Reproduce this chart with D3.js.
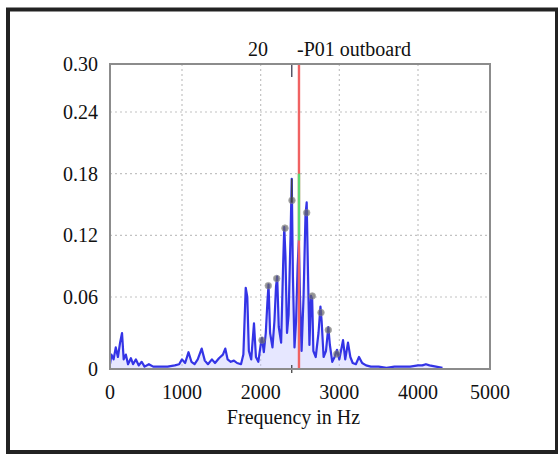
<!DOCTYPE html>
<html><head><meta charset="utf-8">
<script src="https://cdn.jsdelivr.net/npm/d3@7"></script>
<style>body{margin:0;background:#fff}svg{display:block}</style>
</head><body>
<svg id="c" width="558" height="454"></svg>
<script>
// ---- data ----
const freqs = [0,20,50,80,110,140,167,190,220,250,290,320,360,400,440,480,540,600,700,800,900,960,1000,1040,1083,1120,1160,1200,1250,1290,1330,1380,1420,1470,1520,1550,1580,1620,1660,1700,1750,1780,1810,1830,1850,1880,1915,1940,1970,2000,2017,2040,2065,2085,2100,2120,2150,2175,2195,2210,2230,2260,2285,2300,2315,2335,2355,2380,2395,2410,2430,2450,2470,2485,2500,2520,2545,2570,2585,2600,2620,2640,2655,2670,2700,2735,2760,2775,2800,2830,2860,2880,2910,2940,2970,3000,3047,3075,3110,3140,3170,3210,3250,3290,3340,3400,3500,3600,3700,3800,3900,4000,4060,4110,4160,4250,4340];
const amps  = [0.004,0.012,0.008,0.018,0.010,0.022,0.030,0.008,0.012,0.004,0.009,0.004,0.008,0.003,0.006,0.002,0.004,0.002,0.002,0.002,0.003,0.004,0.008,0.005,0.014,0.006,0.004,0.008,0.017,0.007,0.004,0.008,0.005,0.009,0.012,0.017,0.008,0.006,0.007,0.005,0.004,0.012,0.069,0.060,0.015,0.008,0.038,0.010,0.006,0.020,0.026,0.014,0.030,0.055,0.072,0.030,0.018,0.040,0.070,0.080,0.035,0.022,0.090,0.128,0.100,0.030,0.045,0.120,0.175,0.080,0.018,0.040,0.090,0.115,0.060,0.015,0.060,0.140,0.152,0.090,0.020,0.061,0.058,0.015,0.010,0.030,0.052,0.040,0.010,0.015,0.035,0.020,0.006,0.010,0.016,0.008,0.024,0.008,0.022,0.010,0.005,0.004,0.010,0.005,0.003,0.002,0.002,0.001,0.002,0.002,0.002,0.003,0.003,0.004,0.003,0.002,0.001];
const markerFreqs = [2017,2097,2204,2309,2398,2585,2656,2767,2860,2967];
const markerAmps  = [0.024,0.071,0.078,0.127,0.154,0.142,0.061,0.047,0.0325,0.0125];
const xTicks = [0,1000,2000,3000,4000,5000];
const yTicks = [0,0.06,0.12,0.18,0.24,0.30];
const yTickLabels = ["0","0.06","0.12","0.18","0.24","0.30"];
const cursorFreq = 2487;      // red cursor
const greenSpan = [0.115,0.18];
const peakFreq = 2395;        // dark marker line
const peakSpan = [0.152,0.175];
const titleLeft = "20";
const titleRight = "-P01 outboard";
const xTitle = "Frequency in Hz";

// ---- scales ----
const x = d3.scaleLinear().domain([0,1000,4000,5000]).range([110,182,418,490]);
const y = d3.scaleLinear().domain([0,0.06,0.24,0.30]).range([369,297,112,64]);

const svg = d3.select("#c");
const font = "'Liberation Serif','Times New Roman',serif";

// outer frame
svg.append("rect").attr("x",8).attr("y",9.5).attr("width",549).attr("height",442.5)
  .attr("fill","none").attr("stroke","#222").attr("stroke-width",4);

// grid
const g = svg.append("g");
g.selectAll("line.vx").data(xTicks.slice(1,-1)).join("line")
  .attr("x1",d=>x(d)).attr("x2",d=>x(d)).attr("y1",y(0.30)).attr("y2",y(0))
  .attr("stroke","#c2c2c2").attr("stroke-width",1.2).attr("stroke-dasharray","2,3");
g.selectAll("line.hy").data(yTicks.slice(1,-1)).join("line")
  .attr("y1",d=>y(d)).attr("y2",d=>y(d)).attr("x1",x(0)).attr("x2",x(5000))
  .attr("stroke","#c2c2c2").attr("stroke-width",1.2).attr("stroke-dasharray","2,3");

// spectrum
const pts = freqs.map((f,i)=>[f,amps[i]]);
svg.append("path").datum(pts)
  .attr("d",d3.area().x(d=>x(d[0])).y0(y(0)).y1(d=>y(d[1])))
  .attr("fill","#c8caff").attr("opacity",0.45);
svg.append("path").datum(pts)
  .attr("d",d3.line().x(d=>x(d[0])).y(d=>y(d[1])))
  .attr("fill","none").attr("stroke","#3434e6").attr("stroke-width",2.2)
  .attr("stroke-linejoin","round");

// markers
svg.selectAll("circle.m").data(markerFreqs.map((f,i)=>[f,markerAmps[i]])).join("circle")
  .attr("cx",d=>x(d[0])).attr("cy",d=>y(d[1])).attr("r",3.3)
  .attr("fill","#666").attr("stroke","#888").attr("stroke-width",0.8).attr("opacity",0.7);

// red cursor, green segment
svg.append("line").attr("x1",x(cursorFreq)).attr("x2",x(cursorFreq))
  .attr("y1",y(0.30)).attr("y2",y(0)).attr("stroke","#f06262").attr("stroke-width",2.4);
svg.append("line").attr("x1",x(cursorFreq)).attr("x2",x(cursorFreq))
  .attr("y1",y(greenSpan[1])).attr("y2",y(greenSpan[0])).attr("stroke","#5ad872").attr("stroke-width",2.4);

// dark peak marker line & ticks
svg.append("line").attr("x1",x(peakFreq)).attr("x2",x(peakFreq))
  .attr("y1",y(peakSpan[1])).attr("y2",y(peakSpan[0])).attr("stroke","#444").attr("stroke-width",1.5);
svg.append("line").attr("x1",x(peakFreq)).attr("x2",x(peakFreq))
  .attr("y1",y(0.30)-1).attr("y2",y(0.30)+13).attr("stroke","#556").attr("stroke-width",1.5);
svg.append("line").attr("x1",x(peakFreq)).attr("x2",x(peakFreq))
  .attr("y1",y(0)-4).attr("y2",y(0)+4).attr("stroke","#444").attr("stroke-width",1.3);

// plot frame
svg.append("rect").attr("x",x(0)).attr("y",y(0.30)).attr("width",x(5000)-x(0)).attr("height",y(0)-y(0.30))
  .attr("fill","none").attr("stroke","#8c8c8c").attr("stroke-width",2);

// tick labels
svg.selectAll("text.yt").data(yTicks).join("text")
  .attr("x",98).attr("y",d=>y(d)).attr("dy","0.35em").attr("text-anchor","end")
  .attr("font-family",font).attr("font-size",20).attr("fill","#111")
  .text((d,i)=>yTickLabels[i]);
svg.selectAll("text.xt").data(xTicks).join("text")
  .attr("x",d=>x(d)).attr("y",399).attr("text-anchor","middle")
  .attr("font-family",font).attr("font-size",20).attr("fill","#111")
  .text(d=>d);
svg.append("text").attr("x",293.5).attr("y",424).attr("text-anchor","middle")
  .attr("font-family",font).attr("font-size",20).attr("fill","#111").text(xTitle);
svg.append("text").attr("x",258).attr("y",56).attr("text-anchor","middle")
  .attr("font-family",font).attr("font-size",20).attr("fill","#111").text(titleLeft);
svg.append("text").attr("x",297).attr("y",56).attr("text-anchor","start")
  .attr("font-family",font).attr("font-size",20).attr("fill","#111").text(titleRight);
</script>
</body></html>
